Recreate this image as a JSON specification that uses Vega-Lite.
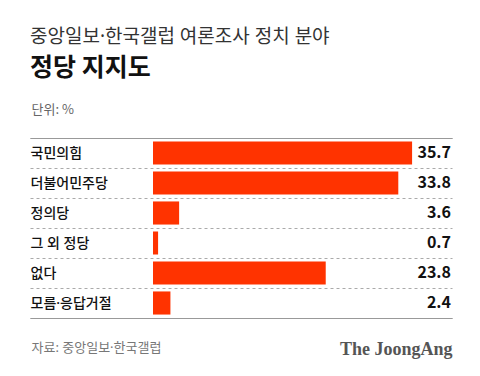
{
  "$schema": "https://vega.github.io/schema/vega-lite/v6.json",
  "width": 422,
  "height": 180,
  "autosize": {"type": "none"},
  "padding": {"left": 30, "top": 138, "right": 28, "bottom": 58},
  "background": "white",
  "config": {
    "view": {"stroke": null},
    "font": "Noto Sans CJK KR"
  },
  "title": {
    "text": "중앙일보·한국갤럽 여론조사 정치 분야",
    "subtitle": "정당 지지도",
    "anchor": "start",
    "frame": "group",
    "font": "'Noto Sans', 'Noto Sans CJK KR'",
    "fontSize": 19,
    "fontWeight": "normal",
    "color": "#333333",
    "subtitleFont": "Noto Sans CJK KR",
    "subtitleFontSize": 25,
    "subtitleFontWeight": "bold",
    "subtitleColor": "#111111",
    "subtitlePadding": 9,
    "offset": 22
  },
  "data": {
    "values": [
      {"party": "국민의힘", "value": 35.7},
      {"party": "더불어민주당", "value": 33.8},
      {"party": "정의당", "value": 3.6},
      {"party": "그 외 정당", "value": 0.7},
      {"party": "없다", "value": 23.8},
      {"party": "모름·응답거절", "value": 2.4}
    ]
  },
  "encoding": {
    "y": {
      "field": "party",
      "type": "nominal",
      "sort": null,
      "scale": {"paddingInner": 0, "paddingOuter": 0},
      "axis": {
        "title": null,
        "orient": "left",
        "domain": false,
        "ticks": false,
        "labelAlign": "left",
        "labelPadding": 0,
        "labelFontSize": 14,
        "labelFontWeight": 500,
        "labelColor": "#111111",
        "labelFont": "'Noto Sans', 'Noto Sans CJK KR'",
        "grid": true,
        "tickBand": "extent",
        "gridColor": "#aaaaaa",
        "gridDash": [3, 3],
        "gridWidth": 1
      }
    }
  },
  "layer": [
    {
      "mark": {"type": "bar", "color": "#ff3300", "height": {"band": 0.77}},
      "encoding": {
        "x": {
          "field": "value",
          "type": "quantitative",
          "scale": {"domain": [-16.95, 41.2], "nice": false, "zero": false},
          "axis": {
            "orient": "bottom",
            "domain": true,
            "domainColor": "#999999",
            "domainWidth": 1,
            "ticks": false,
            "labels": false,
            "grid": false,
            "title": "자료: 중앙일보·한국갤럽",
            "titleAnchor": "start",
            "titleAlign": "left",
            "titleX": 1,
            "titleY": 23,
            "titleFont": "'Noto Sans', 'Noto Sans CJK KR'",
            "titleFontSize": 13,
            "titleFontWeight": "normal",
            "titleColor": "#777777"
          }
        },
        "x2": {"datum": 0}
      }
    },
    {
      "mark": {"type": "text", "align": "right", "baseline": "middle", "dx": -1, "fontSize": 16, "fontWeight": "bold", "color": "#111111", "font": "Noto Sans CJK KR"},
      "encoding": {
        "x": {
          "datum": 41.2,
          "type": "quantitative",
          "axis": {
            "orient": "top",
            "domain": true,
            "domainColor": "#999999",
            "domainWidth": 1,
            "ticks": false,
            "labels": false,
            "grid": false,
            "title": "단위: %",
            "titleAnchor": "start",
            "titleAlign": "left",
            "titleX": 1,
            "titleY": -22,
            "titleFont": "Noto Sans CJK KR",
            "titleFontSize": 13,
            "titleFontWeight": "normal",
            "titleColor": "#666666"
          }
        },
        "text": {"field": "value", "type": "quantitative", "format": ".1f"}
      }
    },
    {
      "mark": {"type": "text", "opacity": 0},
      "encoding": {
        "x": {
          "datum": 41.2,
          "type": "quantitative",
          "axis": {
            "orient": "bottom",
            "domain": false,
            "ticks": false,
            "labels": false,
            "grid": false,
            "title": "The JoongAng",
            "titleAnchor": "end",
            "titleAlign": "right",
            "titleX": 422,
            "titleY": 22,
            "titleFont": "Liberation Serif",
            "titleFontSize": 18,
            "titleFontWeight": "bold",
            "titleColor": "#555555"
          }
        },
        "text": {"value": ""}
      }
    }
  ],
  "resolve": {"axis": {"x": "independent"}}
}
